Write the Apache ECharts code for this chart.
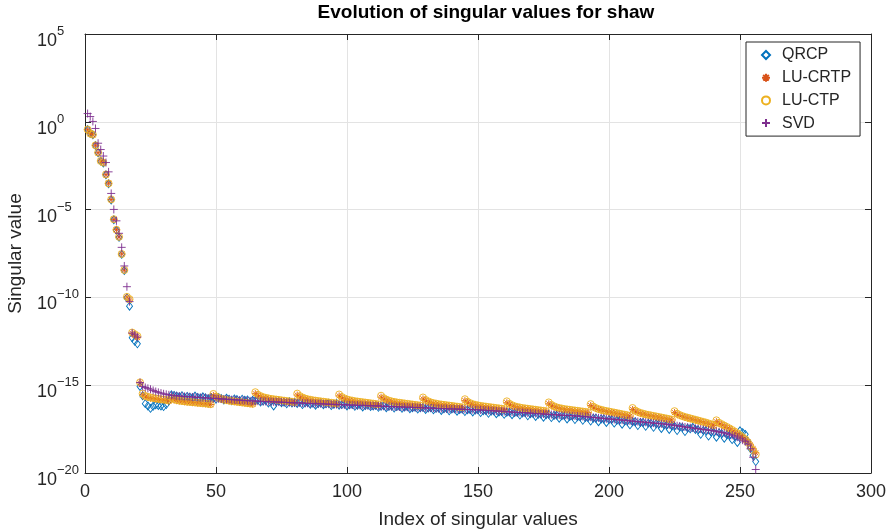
<!DOCTYPE html>
<html>
<head>
<meta charset="utf-8">
<script src="https://cdn.jsdelivr.net/npm/echarts@6/dist/echarts.min.js"></script>
<style>
html,body{margin:0;padding:0;background:#fff;}
#chart{width:887px;height:530px;}
</style>
</head>
<body>
<div id="chart"></div>
<script>
// ---- data: log10 of the singular values ----
const seriesNames = ['QRCP', 'LU-CRTP', 'LU-CTP', 'SVD'];
const xTicks = [0, 50, 100, 150, 200, 250, 300];
const yTickExponents = [-20, -15, -10, -5, 0, 5];

const qrcpExp = [
-0.44,-0.67,-0.74,-1.35,-1.76,-2.24,-2.34,-3.02,-3.53,-4.45,
-5.58,-6.18,-6.58,-7.55,-8.47,-10.02,-10.50,-12.30,-12.50,-12.64,
-15.07,-15.60,-16.05,-16.18,-16.32,-16.20,-16.12,-16.15,-16.18,-16.22,-16.10,-15.89,
-15.55,-15.58,-15.62,-15.66,-15.60,-15.70,-15.64,-15.68,-15.72,-15.62,-15.70,-15.74,-15.66,-15.72,-15.78,-15.70,
-15.74,-15.80,-15.70,-15.76,-15.84,-15.74,-15.80,-15.88,-15.78,-15.82,-15.92,-15.80,-15.86,-15.84,-15.95,-15.86,
-15.88,-15.84,-15.96,-15.90,-15.86,-16.02,-15.92,-16.18,-15.94,-15.90,-16.00,-15.96,-16.06,-15.94,-16.02,-15.98,
-16.04,-15.96,-16.10,-16.00,-15.98,-16.08,-16.02,-16.14,-16.04,-16.00,-16.12,-16.06,-16.02,-16.16,-16.08,-16.04,
-16.14,-16.10,-16.06,-16.18,-16.12,-16.08,-16.20,-16.14,-16.10,-16.24,-16.16,-16.12,-16.22,-16.18,-16.14,-16.26,
-16.20,-16.16,-16.28,-16.20,-16.18,-16.30,-16.22,-16.20,-16.32,-16.24,-16.22,-16.34,-16.28,-16.24,-16.36,-16.28,
-16.26,-16.38,-16.30,-16.28,-16.40,-16.32,-16.30,-16.44,-16.34,-16.32,-16.46,-16.36,-16.34,-16.48,-16.38,-16.36,
-16.50,-16.40,-16.38,-16.52,-16.42,-16.40,-16.56,-16.46,-16.44,-16.60,-16.48,-16.46,-16.62,-16.52,-16.50,-16.66,
-16.54,-16.52,-16.68,-16.56,-16.54,-16.70,-16.58,-16.56,-16.74,-16.62,-16.60,-16.78,-16.66,-16.64,-16.82,-16.68,
-16.66,-16.84,-16.72,-16.70,-16.88,-16.74,-16.72,-16.92,-16.78,-16.76,-16.96,-16.80,-16.80,-17.00,-16.84,-16.84,
-17.04,-16.88,-16.88,-17.08,-16.92,-16.92,-17.12,-16.96,-16.96,-17.16,-17.00,-17.00,-17.22,-17.04,-17.04,-17.26,
-17.08,-17.08,-17.30,-17.12,-17.12,-17.34,-17.16,-17.18,-17.40,-17.20,-17.22,-17.46,-17.26,-17.28,-17.52,-17.32,
-17.34,-17.58,-17.38,-17.40,-17.64,-17.44,-17.48,-17.40,-17.52,-17.54,-17.80,-17.58,-17.60,-17.90,-17.66,-17.68,
-17.96,-17.72,-17.76,-18.02,-17.82,-17.86,-18.10,-17.92,-18.26,-17.60,-17.70,-17.80,-18.20,-18.60,-19.00,-19.35
];

const lucrtpExp = [
-0.45,-0.66,-0.74,-1.34,-1.76,-2.22,-2.33,-3.01,-3.50,-4.43,
-5.56,-6.14,-6.56,-7.52,-8.45,-9.98,-10.15,-12.05,-12.18,-12.28,
-14.86,-15.55,-15.66,-15.70,-15.74,-15.76,-15.79,-15.81,-15.83,-15.85,-15.87,-15.90,
-15.78,-15.84,-15.88,-15.90,-15.92,-15.94,-15.96,-15.97,-15.99,-16.00,-16.02,-16.03,-16.05,-16.06,-16.08,-16.10,
-15.58,-15.68,-15.75,-15.80,-15.84,-15.87,-15.90,-15.92,-15.94,-15.96,-15.98,-16.00,-16.02,-16.04,-16.06,-16.08,
-15.48,-15.58,-15.65,-15.70,-15.74,-15.77,-15.80,-15.82,-15.84,-15.86,-15.88,-15.90,-15.92,-15.94,-15.96,-15.98,
-15.56,-15.66,-15.73,-15.78,-15.82,-15.85,-15.88,-15.90,-15.92,-15.94,-15.96,-15.98,-16.00,-16.02,-16.04,-16.06,
-15.61,-15.71,-15.78,-15.83,-15.87,-15.90,-15.93,-15.95,-15.97,-15.99,-16.01,-16.03,-16.05,-16.07,-16.09,-16.11,
-15.68,-15.78,-15.85,-15.90,-15.94,-15.97,-16.00,-16.02,-16.04,-16.06,-16.08,-16.10,-16.12,-16.14,-16.16,-16.18,
-15.78,-15.88,-15.95,-16.00,-16.04,-16.07,-16.10,-16.12,-16.14,-16.16,-16.18,-16.20,-16.22,-16.24,-16.26,-16.28,
-15.88,-15.98,-16.05,-16.10,-16.14,-16.17,-16.20,-16.22,-16.24,-16.26,-16.28,-16.30,-16.32,-16.34,-16.36,-16.38,
-16.00,-16.10,-16.17,-16.22,-16.26,-16.29,-16.32,-16.34,-16.36,-16.38,-16.40,-16.42,-16.44,-16.46,-16.48,-16.50,
-16.06,-16.16,-16.23,-16.28,-16.32,-16.35,-16.38,-16.40,-16.42,-16.44,-16.46,-16.48,-16.50,-16.52,-16.54,-16.56,
-16.16,-16.26,-16.33,-16.38,-16.42,-16.46,-16.49,-16.52,-16.55,-16.58,-16.61,-16.64,-16.67,-16.70,-16.73,-16.76,
-16.38,-16.48,-16.55,-16.60,-16.64,-16.68,-16.71,-16.74,-16.77,-16.80,-16.83,-16.86,-16.89,-16.92,-16.95,-16.98,
-16.56,-16.66,-16.73,-16.78,-16.83,-16.87,-16.91,-16.95,-16.99,-17.03,-17.07,-17.11,-17.15,-17.20,-17.25,-17.30,
-17.08,-17.18,-17.25,-17.32,-17.40,-17.48,-17.57,-17.66,-17.76,-17.87,-17.98,-18.10,-18.22,-18.40,-18.62,-18.85
];

const luctpExp = [
-0.44,-0.67,-0.73,-1.34,-1.75,-2.23,-2.32,-3.00,-3.51,-4.42,
-5.55,-6.15,-6.55,-7.53,-8.44,-9.97,-10.10,-12.00,-12.10,-12.20,
-14.84,-15.48,-15.62,-15.66,-15.70,-15.73,-15.76,-15.78,-15.80,-15.82,-15.84,-15.87,
-15.72,-15.80,-15.85,-15.88,-15.90,-15.92,-15.94,-15.95,-15.97,-15.98,-16.00,-16.01,-16.03,-16.04,-16.06,-16.08,
-15.50,-15.64,-15.72,-15.78,-15.82,-15.85,-15.88,-15.90,-15.92,-15.94,-15.96,-15.98,-16.00,-16.02,-16.04,-16.06,
-15.40,-15.54,-15.62,-15.68,-15.72,-15.75,-15.78,-15.80,-15.82,-15.84,-15.86,-15.88,-15.90,-15.92,-15.94,-15.96,
-15.48,-15.62,-15.70,-15.76,-15.80,-15.83,-15.86,-15.88,-15.90,-15.92,-15.94,-15.96,-15.98,-16.00,-16.02,-16.04,
-15.53,-15.67,-15.75,-15.81,-15.85,-15.88,-15.91,-15.93,-15.95,-15.97,-15.99,-16.01,-16.03,-16.05,-16.07,-16.09,
-15.60,-15.74,-15.82,-15.88,-15.92,-15.95,-15.98,-16.00,-16.02,-16.04,-16.06,-16.08,-16.10,-16.12,-16.14,-16.16,
-15.70,-15.84,-15.92,-15.98,-16.02,-16.05,-16.08,-16.10,-16.12,-16.14,-16.16,-16.18,-16.20,-16.22,-16.24,-16.26,
-15.80,-15.94,-16.02,-16.08,-16.12,-16.15,-16.18,-16.20,-16.22,-16.24,-16.26,-16.28,-16.30,-16.32,-16.34,-16.36,
-15.92,-16.06,-16.14,-16.20,-16.24,-16.27,-16.30,-16.32,-16.34,-16.36,-16.38,-16.40,-16.42,-16.44,-16.46,-16.48,
-15.98,-16.12,-16.20,-16.26,-16.30,-16.33,-16.36,-16.38,-16.40,-16.42,-16.44,-16.46,-16.48,-16.50,-16.52,-16.54,
-16.08,-16.22,-16.30,-16.36,-16.40,-16.44,-16.47,-16.50,-16.53,-16.56,-16.59,-16.62,-16.65,-16.68,-16.71,-16.74,
-16.30,-16.44,-16.52,-16.58,-16.62,-16.66,-16.69,-16.72,-16.75,-16.78,-16.81,-16.84,-16.87,-16.90,-16.93,-16.96,
-16.48,-16.62,-16.70,-16.76,-16.81,-16.85,-16.89,-16.93,-16.97,-17.01,-17.05,-17.09,-17.13,-17.18,-17.23,-17.28,
-17.00,-17.14,-17.22,-17.30,-17.38,-17.46,-17.55,-17.64,-17.74,-17.85,-17.96,-18.08,-18.25,-18.48,-18.70,-18.95
];

const svdExp = [
0.47,0.30,0.02,-0.38,-1.22,-1.58,-1.95,-2.32,-2.85,-4.08,
-4.99,-5.64,-6.35,-7.15,-8.21,-9.39,-10.24,-12.03,-12.13,-12.26,
-14.85,-15.07,-15.13,-15.18,-15.23,-15.30,-15.36,-15.41,-15.45,-15.49,
-15.52,-15.55,-15.57,-15.59,-15.61,-15.62,-15.63,-15.64,-15.65,-15.66,
-15.67,-15.68,-15.69,-15.70,-15.71,-15.72,-15.73,-15.74,-15.75,-15.76,
-15.77,-15.78,-15.79,-15.80,-15.81,-15.82,-15.83,-15.84,-15.85,-15.86,
-15.87,-15.88,-15.89,-15.89,-15.90,-15.91,-15.92,-15.92,-15.93,-15.94,
-15.94,-15.95,-15.96,-15.96,-15.97,-15.98,-15.98,-15.99,-16.00,-16.00,
-16.01,-16.01,-16.02,-16.03,-16.03,-16.04,-16.04,-16.05,-16.06,-16.06,
-16.07,-16.07,-16.08,-16.09,-16.09,-16.10,-16.10,-16.11,-16.12,-16.12,
-16.13,-16.13,-16.14,-16.14,-16.15,-16.15,-16.16,-16.17,-16.17,-16.18,
-16.18,-16.19,-16.19,-16.20,-16.21,-16.21,-16.22,-16.22,-16.23,-16.23,
-16.24,-16.25,-16.25,-16.26,-16.26,-16.27,-16.27,-16.28,-16.29,-16.29,
-16.30,-16.30,-16.31,-16.32,-16.32,-16.33,-16.33,-16.34,-16.35,-16.35,
-16.36,-16.36,-16.37,-16.37,-16.38,-16.38,-16.39,-16.39,-16.40,-16.40,
-16.41,-16.42,-16.43,-16.44,-16.45,-16.46,-16.47,-16.48,-16.49,-16.50,
-16.51,-16.52,-16.53,-16.54,-16.55,-16.55,-16.56,-16.57,-16.58,-16.59,
-16.60,-16.61,-16.62,-16.63,-16.64,-16.65,-16.66,-16.67,-16.68,-16.69,
-16.70,-16.71,-16.72,-16.72,-16.73,-16.74,-16.75,-16.76,-16.77,-16.78,
-16.79,-16.81,-16.82,-16.84,-16.85,-16.86,-16.88,-16.89,-16.91,-16.92,
-16.93,-16.95,-16.96,-16.98,-16.99,-17.00,-17.02,-17.03,-17.05,-17.06,
-17.07,-17.09,-17.10,-17.11,-17.13,-17.14,-17.16,-17.17,-17.18,-17.20,
-17.21,-17.23,-17.25,-17.27,-17.29,-17.31,-17.33,-17.35,-17.38,-17.40,
-17.42,-17.44,-17.46,-17.48,-17.50,-17.52,-17.54,-17.56,-17.58,-17.60,
-17.63,-17.66,-17.69,-17.72,-17.76,-17.80,-17.85,-17.90,-17.96,-18.05,
-18.13,-18.22,-18.35,-18.62,-19.10,-19.80
];

// ---- chart ----
const FONT = '"Liberation Sans", Arial, Helvetica, sans-serif';
const TXT = '#262626';
const colors = ['#0072BD', '#D95319', '#EDB120', '#7E2F8E'];
const PLUS = 'path://M5,0L5,10M0,5L10,5';
const STAR = 'path://M5,0L5,10M0,5L10,5M1.5,1.5L8.5,8.5M1.5,8.5L8.5,1.5';
const symbols = ['diamond', STAR, 'circle', PLUS];
const sizes = [[6, 8], 7, 7, 8];
const expArrays = [qrcpExp, lucrtpExp, luctpExp, svdExp];

// y is plotted on a log10 (decade) scale: each point is [index, log10(value)]
function toPoints(exps) {
  return exps.map((e, i) => [i + 1, e]);
}

function yLabel(v) {
  const s = String(Math.round(v)).replace('-', '\u2212');
  return '{b|10}{s|' + s + '}';
}

const chart = echarts.init(document.getElementById('chart'), null, { renderer: 'canvas' });

const series = seriesNames.map((name, k) => ({
  name: name,
  type: 'scatter',
  data: toPoints(expArrays[k]),
  symbol: symbols[k],
  symbolSize: sizes[k],
  symbolKeepAspect: true,
  itemStyle: { color: 'rgba(0,0,0,0)', borderColor: colors[k], borderWidth: 0.9, opacity: 1 },
  emphasis: { disabled: true },
  xAxisIndex: 0,
  yAxisIndex: 0,
  z: 2 + k
}));

const axisLineStyle = { color: TXT, width: 1 };
const gridColor = '#e3e3e3';

chart.setOption({
  animation: false,
  backgroundColor: '#fff',
  textStyle: { fontFamily: FONT },
  title: {
    text: 'Evolution of singular values for shaw',
    left: 486,
    top: 3,
    padding: 0,
    textAlign: 'center',
    textStyle: { fontFamily: FONT, fontSize: 19, fontWeight: 'bold', color: '#000' }
  },
  grid: { left: 85, right: 16, top: 34, bottom: 57, containLabel: false, outerBoundsMode: 'none' },
  legend: {
    orient: 'vertical',
    left: 746,
    top: 42,
    padding: [5, 9, 5, 15],
    itemGap: 6.7,
    itemWidth: 8,
    itemHeight: 8,
    borderColor: TXT,
    borderWidth: 1,
    backgroundColor: '#fff',
    selectedMode: false,
    textStyle: { fontFamily: FONT, fontSize: 16, color: TXT, padding: [0, 0, 0, 7] },
    data: seriesNames
  },
  xAxis: [{
    type: 'value',
    min: xTicks[0],
    max: xTicks[xTicks.length - 1],
    interval: 50,
    position: 'bottom',
    name: 'Index of singular values',
    nameLocation: 'middle',
    nameGap: 37,
    nameTextStyle: { fontFamily: FONT, fontSize: 19, color: TXT },
    axisLine: { show: true, onZero: false, lineStyle: axisLineStyle },
    axisTick: { show: true, inside: true, length: 6, lineStyle: axisLineStyle },
    axisLabel: { fontFamily: FONT, fontSize: 18, color: TXT, margin: 10 },
    splitLine: { show: true, lineStyle: { color: gridColor, width: 1 } }
  }, {
    type: 'value',
    min: xTicks[0],
    max: xTicks[xTicks.length - 1],
    interval: 50,
    position: 'top',
    axisLine: { show: true, onZero: false, lineStyle: axisLineStyle },
    axisTick: { show: true, inside: true, length: 6, lineStyle: axisLineStyle },
    axisLabel: { show: false },
    splitLine: { show: false }
  }],
  yAxis: [{
    type: 'value',
    min: yTickExponents[0],
    max: yTickExponents[yTickExponents.length - 1],
    interval: 5,
    position: 'left',
    name: 'Singular value',
    nameLocation: 'middle',
    nameGap: 60,
    nameTextStyle: { fontFamily: FONT, fontSize: 19, color: TXT },
    axisLine: { show: true, onZero: false, lineStyle: axisLineStyle },
    axisTick: { show: true, inside: true, length: 6, lineStyle: axisLineStyle },
    axisLabel: {
      formatter: yLabel,
      margin: 48,
      align: 'left',
      padding: [7, 0, 0, 0],
      rich: {
        b: { fontFamily: FONT, fontSize: 18, color: TXT, lineHeight: 25, verticalAlign: 'bottom' },
        s: { fontFamily: FONT, fontSize: 13, color: TXT, lineHeight: 25, verticalAlign: 'top' }
      }
    },
    splitLine: { show: true, lineStyle: { color: gridColor, width: 1 } }
  }, {
    type: 'value',
    min: yTickExponents[0],
    max: yTickExponents[yTickExponents.length - 1],
    interval: 5,
    position: 'right',
    axisLine: { show: true, onZero: false, lineStyle: axisLineStyle },
    axisTick: { show: true, inside: true, length: 6, lineStyle: axisLineStyle },
    axisLabel: { show: false },
    splitLine: { show: false }
  }],
  series: series
});
</script>
</body>
</html>
